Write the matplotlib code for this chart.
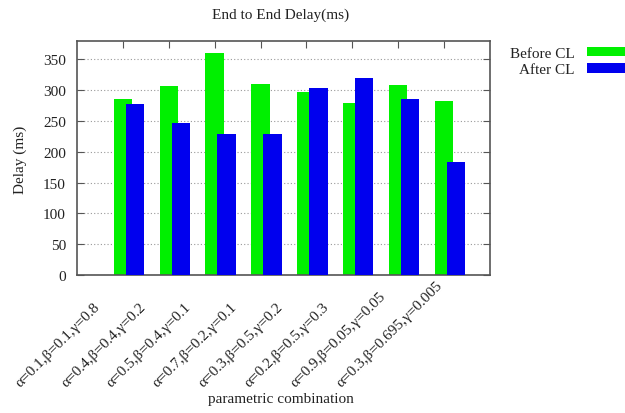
import numpy as np
import matplotlib
matplotlib.use("Agg")
import matplotlib.pyplot as plt
import matplotlib.transforms as mtransforms

plt.rcParams['font.family'] = ['Liberation Serif', 'DejaVu Serif']
plt.rcParams['font.size'] = 11
plt.rcParams['text.color'] = '#222222'
plt.rcParams['ytick.labelcolor'] = '#222222'

combos = ["α=0.1,β=0.1,γ=0.8", "α=0.4,β=0.4,γ=0.2", "α=0.5,β=0.4,γ=0.1",
          "α=0.7,β=0.2,γ=0.1", "α=0.3,β=0.5,γ=0.2", "α=0.2,β=0.5,γ=0.3",
          "α=0.9,β=0.05,γ=0.05", "α=0.3,β=0.695,γ=0.005"]
before_cl = [285, 307, 361, 310, 297, 279, 309, 282]
after_cl = [278, 247, 229, 229, 304, 320, 285, 183]
yticks = [0, 50, 100, 150, 200, 250, 300, 350]

fig = plt.figure(figsize=(6.25, 4.14), dpi=100)
ax = fig.add_axes([0.1232, 0.3333, 0.784 - 0.1232, 0.8986 - 0.3333])

x = np.arange(len(combos))
width = 0.4
ax.bar(x, before_cl, width, color='#00f000', label='Before CL', zorder=2)
ax.bar(x + 0.26, after_cl, width, color='#0000ee', label='After CL', zorder=3)

ax.set_xlim(-1, 8)
ax.set_ylim(0, 380)
ax.set_yticks(yticks)
ax.set_xticks(x)
ax.set_xticklabels([])
ax.yaxis.grid(True, linestyle=(0, (1, 2)), color='#999999', linewidth=0.8, zorder=0)
ax.tick_params(axis='y', direction='in', length=5, right=True, color='#555555', pad=8)
ax.tick_params(axis='x', direction='in', length=5, top=True, bottom=False, color='#555555')
for sp in ax.spines.values():
    sp.set_color('#555555')
    sp.set_linewidth(1.2)

# rotated category labels, start of each text sits down-left of its tick
off = mtransforms.ScaledTranslation(-103 / 100, -112 / 100, fig.dpi_scale_trans)
for i, lbl in enumerate(combos):
    ax.text(x[i], 0, lbl, transform=ax.get_xaxis_transform() + off,
            rotation=45, rotation_mode='anchor', ha='left', va='baseline')

fig.text(281 / 625, 1 - 15 / 414, "End to End Delay(ms)", ha='center', va='center')
fig.text(281 / 625, 1 - 400 / 414, "parametric combination", ha='center', va='center')
fig.text(20 / 625, 1 - 160 / 414, "Delay (ms)", rotation=90, ha='center', va='center')

ax.legend(loc='upper left', bbox_to_anchor=(502 / 625, 1 - 40 / 414),
          bbox_transform=fig.transFigure, frameon=False, markerfirst=False,
          handlelength=3.2, handleheight=0.55, labelspacing=0.25, borderpad=0,
          handletextpad=0.8)

fig.savefig("out.png", dpi=100)
